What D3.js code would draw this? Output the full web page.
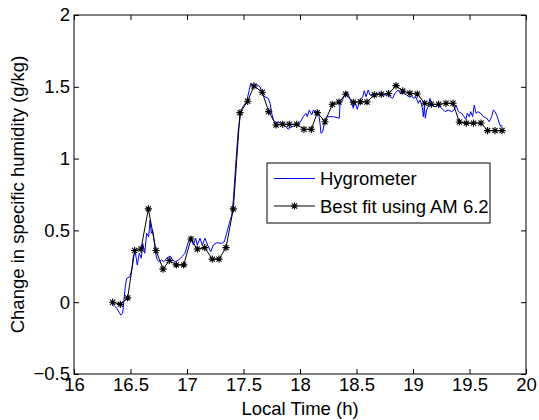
<!DOCTYPE html>
<html lang="en">
<head>
    <meta charset="UTF-8">
    <title>Specific humidity</title>
    <script src="https://cdn.jsdelivr.net/npm/d3@7/dist/d3.min.js"></script>
    <style>
        body { margin: 0; background: #fff; }
        text { font-family: "Liberation Sans", Arial, sans-serif; fill: #000; }
        .tick line { stroke: #000; }
        path.hygro { fill: none; stroke: #0000ff; stroke-width: 1px; }
        path.fit { fill: none; stroke: #000; stroke-width: 1px; }
        path.star { fill: none; stroke: #000; stroke-width: 1.1px; }
    </style>
</head>
<body>
    <svg width=539 height=420></svg>
    <script>
        // hygrometer trace (local time in h, change in q in g/kg)
        var hygroTime = [16.336, 16.378, 16.413, 16.431, 16.442, 16.454, 16.466, 16.496, 16.513, 16.525,
            16.542, 16.560, 16.578, 16.596, 16.608, 16.626, 16.643, 16.661, 16.673, 16.684,
            16.696, 16.708, 16.719, 16.737, 16.755, 16.773, 16.796, 16.820, 16.850, 16.873,
            16.896, 16.927, 16.956, 16.982, 17.012, 17.035, 17.056, 17.077, 17.091, 17.115,
            17.135, 17.159, 17.183, 17.210, 17.233, 17.263, 17.307, 17.330, 17.351, 17.374,
            17.396, 17.410, 17.434, 17.454, 17.475, 17.493, 17.528, 17.551, 17.564, 17.581,
            17.602, 17.622, 17.646, 17.670, 17.690, 17.719, 17.735, 17.750, 17.764, 17.788,
            17.808, 17.829, 17.852, 17.876, 17.896, 17.918, 17.947, 17.971, 18.000, 18.029,
            18.053, 18.065, 18.082, 18.104, 18.118, 18.142, 18.162, 18.177, 18.186, 18.201,
            18.221, 18.236, 18.295, 18.348, 18.354, 18.369, 18.389, 18.413, 18.436, 18.458,
            18.472, 18.487, 18.507, 18.531, 18.555, 18.569, 18.584, 18.604, 18.619, 18.649,
            18.693, 18.723, 18.752, 18.781, 18.796, 18.820, 18.841, 18.870, 18.891, 18.914,
            18.944, 18.967, 18.988, 19.003, 19.027, 19.047, 19.062, 19.077, 19.086, 19.091,
            19.100, 19.109, 19.121, 19.135, 19.150, 19.166, 19.195, 19.224, 19.254, 19.283,
            19.312, 19.342, 19.363, 19.381, 19.401, 19.431, 19.451, 19.469, 19.480, 19.498,
            19.511, 19.528, 19.542, 19.558, 19.575, 19.599, 19.622, 19.652, 19.675, 19.696,
            19.711, 19.726, 19.746, 19.764, 19.777, 19.790];
        var hygroQ = [-0.008, -0.042, -0.089, -0.077, 0.015, 0.108, 0.166, 0.178, 0.236, 0.317,
            0.352, 0.259, 0.341, 0.306, 0.410, 0.341, 0.480, 0.456, 0.572, 0.480,
            0.503, 0.433, 0.352, 0.294, 0.282, 0.294, 0.282, 0.306, 0.322, 0.294,
            0.282, 0.294, 0.317, 0.341, 0.421, 0.456, 0.398, 0.445, 0.398, 0.445,
            0.398, 0.445, 0.398, 0.352, 0.398, 0.414, 0.410, 0.421, 0.480, 0.549,
            0.607, 0.712, 0.990, 1.199, 1.315, 1.361, 1.396, 1.478, 1.524, 1.501,
            1.513, 1.513, 1.501, 1.443, 1.431, 1.420, 1.385, 1.315, 1.269, 1.250,
            1.257, 1.246, 1.234, 1.222, 1.204, 1.218, 1.227, 1.234, 1.250, 1.292,
            1.315, 1.292, 1.338, 1.304, 1.338, 1.315, 1.327, 1.246, 1.176, 1.187,
            1.269, 1.292, 1.292, 1.281, 1.385, 1.396, 1.431, 1.466, 1.431, 1.385,
            1.350, 1.396, 1.343, 1.408, 1.431, 1.473, 1.431, 1.478, 1.443, 1.443,
            1.455, 1.443, 1.443, 1.455, 1.431, 1.420, 1.455, 1.478, 1.450, 1.455,
            1.443, 1.427, 1.436, 1.420, 1.427, 1.385, 1.408, 1.373, 1.338, 1.292,
            1.361, 1.281, 1.338, 1.366, 1.420, 1.373, 1.361, 1.373, 1.350, 1.327,
            1.338, 1.327, 1.338, 1.373, 1.327, 1.315, 1.292, 1.274, 1.315, 1.292,
            1.327, 1.292, 1.373, 1.315, 1.327, 1.315, 1.292, 1.281, 1.257, 1.292,
            1.338, 1.327, 1.292, 1.246, 1.222, 1.234];

        // best fit using AM 6.2
        var fitTime = [16.342, 16.410, 16.475, 16.537, 16.593, 16.658, 16.726, 16.788, 16.843, 16.905,
            16.971, 17.035, 17.091, 17.157, 17.224, 17.283, 17.345, 17.410, 17.469, 17.537,
            17.593, 17.666, 17.723, 17.788, 17.847, 17.905, 17.971, 18.035, 18.100, 18.153,
            18.221, 18.286, 18.345, 18.404, 18.472, 18.534, 18.593, 18.658, 18.719, 18.784,
            18.850, 18.909, 18.973, 19.038, 19.104, 19.162, 19.227, 19.292, 19.354, 19.410,
            19.472, 19.536, 19.602, 19.660, 19.726, 19.788];
        var fitQ = [0.000, -0.015, 0.030, 0.360, 0.370, 0.650, 0.360, 0.230, 0.290, 0.260,
            0.260, 0.440, 0.370, 0.380, 0.300, 0.300, 0.380, 0.650, 1.320, 1.399,
            1.506, 1.462, 1.327, 1.234, 1.239, 1.239, 1.239, 1.204, 1.204, 1.320,
            1.257, 1.378, 1.394, 1.448, 1.392, 1.396, 1.394, 1.444, 1.448, 1.453,
            1.508, 1.471, 1.455, 1.450, 1.385, 1.378, 1.378, 1.385, 1.385, 1.255,
            1.247, 1.247, 1.248, 1.195, 1.195, 1.195];

        var xTicks = [16, 16.5, 17, 17.5, 18, 18.5, 19, 19.5, 20];
        var yTicks = [-0.5, 0, 0.5, 1, 1.5, 2];
        var seriesNames = ['Hygrometer', 'Best fit using AM 6.2'];

        var svg = d3.select('svg'),
            margin = { top: 15, right: 13, bottom: 46, left: 74 },
            width = +svg.attr('width') - margin.left - margin.right,
            height = +svg.attr('height') - margin.top - margin.bottom,
            fs = 18.5;

        var x = d3.scaleLinear().domain([16, 20]).range([0, width]),
            y = d3.scaleLinear().domain([-0.5, 2]).range([height, 0]);

        var g = svg.append('g')
            .attr('transform', 'translate(' + [margin.left, margin.top] + ')');

        function fmt(d) {
            return d < 0 ? '\u2212' + Math.abs(d) : String(d);
        }

        g.append('g')
            .attr('transform', 'translate(0,' + height + ')')
            .call(d3.axisBottom(x).tickValues(xTicks).tickFormat(fmt)
                .tickSizeInner(-5).tickSizeOuter(0).tickPadding(4))
            .call(function(a) { a.select('.domain').remove(); })
            .selectAll('text').style('font-size', fs + 'px').attr('font-family', null);

        g.append('g')
            .call(d3.axisLeft(y).tickValues(yTicks).tickFormat(fmt)
                .tickSizeInner(-5).tickSizeOuter(0).tickPadding(4))
            .call(function(a) { a.select('.domain').remove(); })
            .selectAll('text').style('font-size', fs + 'px').attr('font-family', null);

        g.append('g')
            .call(d3.axisTop(x).tickValues(xTicks).tickFormat('').tickSizeInner(-5).tickSizeOuter(0))
            .call(function(a) { a.select('.domain').remove(); });

        g.append('g')
            .attr('transform', 'translate(' + width + ',0)')
            .call(d3.axisRight(y).tickValues(yTicks).tickFormat('').tickSizeInner(-5).tickSizeOuter(0))
            .call(function(a) { a.select('.domain').remove(); });

        g.append('rect')
            .attr('width', width).attr('height', height)
            .attr('fill', 'none').attr('stroke', '#000').attr('stroke-width', 1);

        var line = d3.line()
            .x(function(d) { return x(d[0]); })
            .y(function(d) { return y(d[1]); });

        var hygro = d3.zip(hygroTime, hygroQ),
            fit = d3.zip(fitTime, fitQ);

        g.append('path').classed('hygro', true).datum(hygro).attr('d', line);
        g.append('path').classed('fit', true).datum(fit).attr('d', line);

        function star(cx, cy) {
            var r = 3.6, q = r * 0.72;
            return 'M' + (cx - r) + ',' + cy + 'H' + (cx + r) +
                'M' + cx + ',' + (cy - r) + 'V' + (cy + r) +
                'M' + (cx - q) + ',' + (cy - q) + 'L' + (cx + q) + ',' + (cy + q) +
                'M' + (cx - q) + ',' + (cy + q) + 'L' + (cx + q) + ',' + (cy - q);
        }

        g.selectAll('path.star')
            .data(fit)
            .enter().append('path')
            .classed('star', true)
            .attr('d', function(d) { return star(x(d[0]), y(d[1])); });

        // axis titles
        svg.append('text')
            .attr('x', margin.left + width / 2)
            .attr('y', 415)
            .attr('text-anchor', 'middle')
            .style('font-size', fs + 'px')
            .text('Local Time (h)');

        svg.append('text')
            .attr('transform', 'translate(24,' + (margin.top + height / 2) + ') rotate(-90)')
            .attr('text-anchor', 'middle')
            .style('font-size', fs + 'px')
            .text('Change in specific humidity (g/kg)');

        // legend
        var lg = svg.append('g').attr('transform', 'translate(267,163)');
        lg.append('rect')
            .attr('width', 223).attr('height', 60)
            .attr('fill', '#fff').attr('stroke', '#000');

        var entries = lg.selectAll('g.entry')
            .data(seriesNames)
            .enter().append('g')
            .attr('transform', function(d, i) { return 'translate(0,' + (15.5 + i * 27.5) + ')'; });

        entries.append('line')
            .attr('x1', 7).attr('x2', 48)
            .attr('stroke', function(d, i) { return i === 0 ? '#0000ff' : '#000'; });

        entries.filter(function(d, i) { return i === 1; })
            .append('path').classed('star', true)
            .attr('d', star(27.5, 0));

        entries.append('text')
            .attr('x', 53)
            .attr('dy', '0.36em')
            .style('font-size', fs + 'px')
            .text(function(d) { return d; });
    </script>
</body>
</html>
